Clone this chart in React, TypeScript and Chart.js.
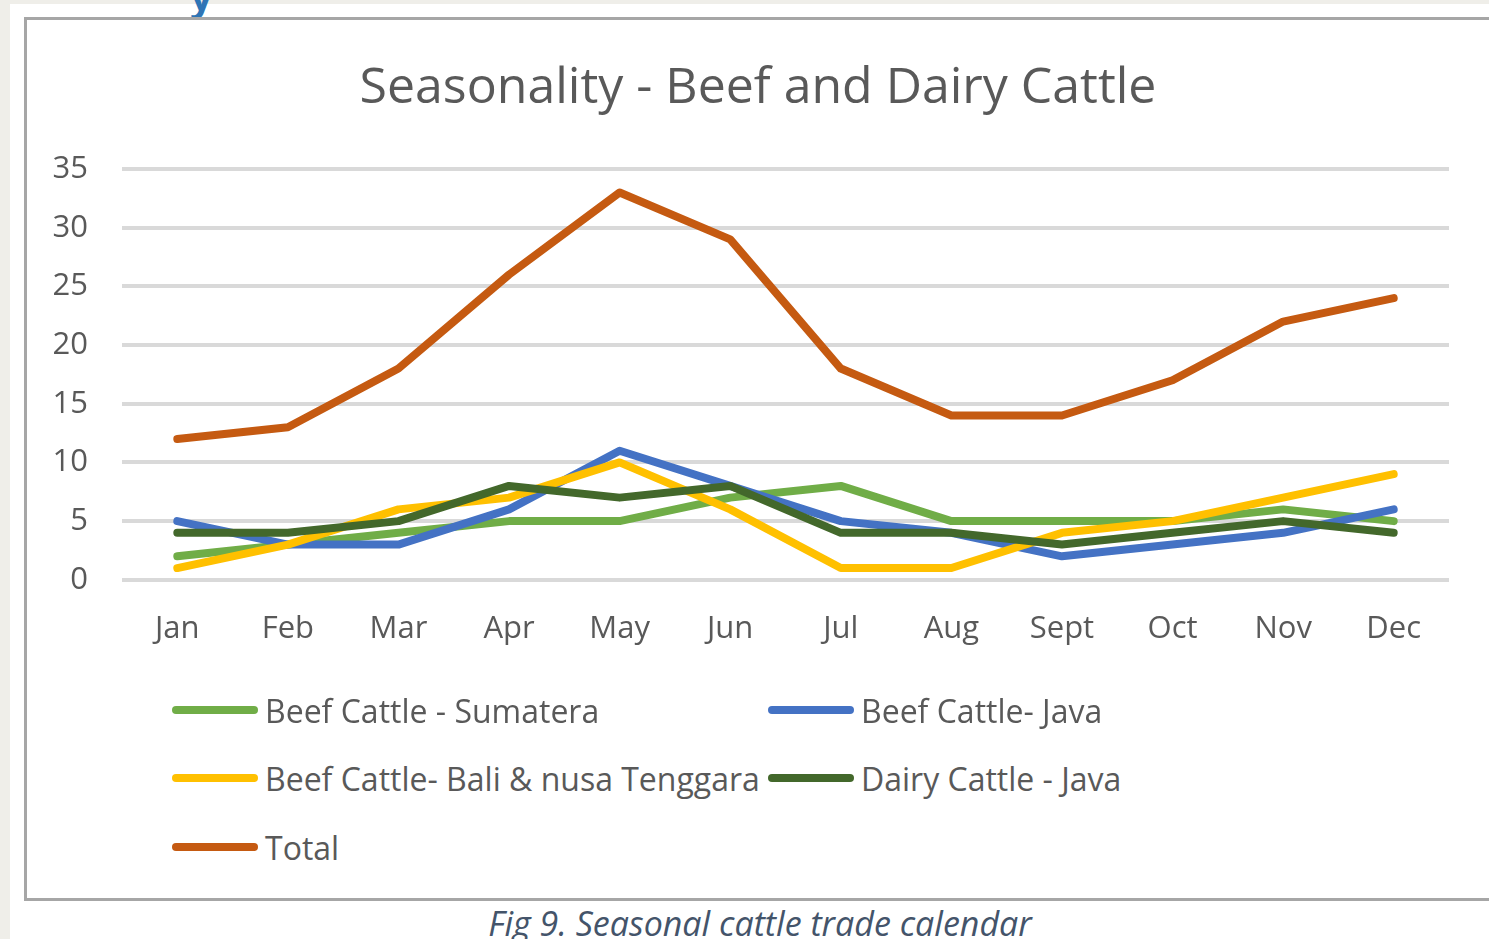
import { useEffect, useRef } from "react";
import { Chart, registerables } from "chart.js";

Chart.register(...registerables);

const months = ["Jan", "Feb", "Mar", "Apr", "May", "Jun", "Jul", "Aug", "Sept", "Oct", "Nov", "Dec"];
const beefSumatera = [2, 3, 4, 5, 5, 7, 8, 5, 5, 5, 6, 5];
const beefJava = [5, 3, 3, 6, 11, 8, 5, 4, 2, 3, 4, 6];
const beefBali = [1, 3, 6, 7, 10, 6, 1, 1, 4, 5, 7, 9];
const dairyJava = [4, 4, 5, 8, 7, 8, 4, 4, 3, 4, 5, 4];
const total = [12, 13, 18, 26, 33, 29, 18, 14, 14, 17, 22, 24];
const yTicks = [0, 5, 10, 15, 20, 25, 30, 35];

const chartTitle = "Seasonality - Beef and Dairy Cattle";
const caption = "Fig 9. Seasonal cattle trade calendar";
const seriesNames = [
  "Beef Cattle - Sumatera",
  "Beef Cattle- Java",
  "Beef Cattle- Bali & nusa Tenggara",
  "Dairy Cattle - Java",
  "Total",
];
const seriesColors = ["#70ad47", "#4472c4", "#ffc000", "#43682b", "#c55a11"];
const seriesData = [beefSumatera, beefJava, beefBali, dairyJava, total];

const FONT = "'Open Sans', sans-serif";
const TEXT = "#595959";

export default function App() {
  const ref = useRef<HTMLCanvasElement>(null);

  useEffect(() => {
    const chart = new Chart(ref.current!, {
      type: "line",
      data: {
        labels: months,
        datasets: seriesData.map((d, i) => ({
          label: seriesNames[i],
          data: d,
          borderColor: seriesColors[i],
          backgroundColor: seriesColors[i],
          borderWidth: 8,
          pointRadius: 0,
          tension: 0,
          borderCapStyle: "round" as const,
          borderJoinStyle: "round" as const,
          order: seriesData.length - i,
        })),
      },
      options: {
        responsive: false,
        animation: false,
        layout: { padding: { left: 0, right: 40, top: 169, bottom: 36 } },
        plugins: {
          legend: { display: false },
          tooltip: { enabled: false },
          title: { display: false },
        },
        scales: {
          x: {
            offset: true,
            grid: { display: false },
            border: { display: false },
            ticks: {
              color: TEXT,
              font: { family: FONT, size: 31 },
              padding: 23,
              maxRotation: 0,
              autoSkip: false,
            },
          },
          y: {
            min: 0,
            max: 35,
            afterFit: (scale: any) => {
              scale.width = 122;
            },
            afterBuildTicks: (scale: any) => {
              scale.ticks = yTicks.map((v) => ({ value: v }));
            },
            grid: { color: "#d9d9d9", lineWidth: 4, drawTicks: false },
            border: { display: false },
            ticks: {
              color: TEXT,
              font: { family: FONT, size: 31 },
              padding: 34,
            },
          },
        },
      },
    });
    return () => chart.destroy();
  }, []);

  const legendRows = [
    [0, 1],
    [2, 3],
    [4],
  ];
  const rowY = [710, 778, 847];
  const colX = [172, 768];

  return (
    <div
      style={{
        position: "fixed",
        left: 0,
        top: 0,
        width: 1489,
        height: 939,
        background: "#efeee9",
        overflow: "hidden",
        fontFamily: FONT,
      }}
    >
      <div style={{ position: "absolute", left: 10, top: 4, right: 0, bottom: 0, background: "#ffffff" }} />
      <div
        style={{
          position: "absolute",
          left: 190,
          top: -32,
          color: "#2e74b5",
          fontSize: 40,
          fontWeight: "bold",
        }}
      >
        y
      </div>
      <div
        style={{
          position: "absolute",
          left: 24,
          top: 17,
          width: 1500,
          height: 878,
          border: "3px solid #a6a6a6",
          background: "#ffffff",
        }}
      />
      <canvas ref={ref} width={1489} height={707} style={{ position: "absolute", left: 0, top: 0 }} />
      <div
        style={{
          position: "absolute",
          left: 0,
          width: 1516,
          top: 50,
          height: 68,
          lineHeight: "68px",
          textAlign: "center",
          fontSize: 50,
          color: TEXT,
          whiteSpace: "nowrap",
        }}
      >
        {chartTitle}
      </div>
      {legendRows.map((row, r) =>
        row.map((si, c) => (
          <div
            key={si}
            style={{
              position: "absolute",
              left: colX[c],
              top: rowY[r] - 24,
              height: 48,
              display: "flex",
              alignItems: "center",
              whiteSpace: "nowrap",
            }}
          >
            <div
              style={{
                width: 86,
                height: 8,
                borderRadius: 4,
                background: seriesColors[si],
                marginRight: 7,
              }}
            />
            <span style={{ color: TEXT, fontSize: 32 }}>{seriesNames[si]}</span>
          </div>
        ))
      )}
      <div
        style={{
          position: "absolute",
          left: 0,
          width: 1520,
          top: 900,
          textAlign: "center",
          fontStyle: "italic",
          fontSize: 34,
          color: "#44546a",
          whiteSpace: "nowrap",
        }}
      >
        {caption}
      </div>
    </div>
  );
}
